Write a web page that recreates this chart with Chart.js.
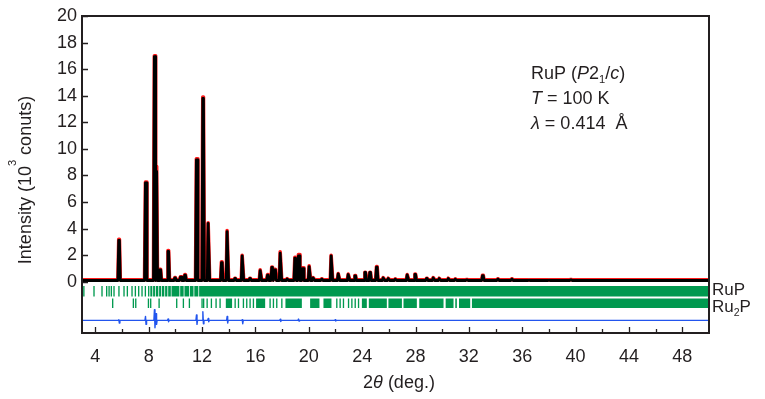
<!DOCTYPE html>
<html>
<head>
<meta charset="utf-8">
<script src="https://cdn.jsdelivr.net/npm/chart.js@4/dist/chart.umd.min.js"></script>
<style>
  body { margin: 0; background: #fff; }
  canvas { display: block; }
</style>
</head>
<body>
<canvas id="xrd" width="765" height="399"></canvas>
<script>
// powder pattern of RuP at 100 K, peaks (2theta in deg, intensity in 10^3 counts)
const peakPos = [5.78, 7.78, 8.45, 8.57, 8.87, 9.47, 9.98, 10.4, 10.73, 11.6, 12.08, 12.48, 13.48, 13.9,
  14.48, 15.03, 15.6, 16.38, 16.93, 17.25, 17.48, 17.88, 18.4, 18.98, 19.25, 19.55, 20.05, 20.35, 20.98,
  21.7, 22.23, 22.98, 23.48, 24.23, 24.6, 25.1, 25.6, 25.98, 26.5, 27.4, 27.98, 28.85, 29.35, 29.8,
  30.48, 31.0, 31.85, 33.05, 34.18, 35.23, 36.5, 38.0, 39.65];
const peakCalc = [3.12, 7.45, 16.95, 8.3, 0.9, 2.28, 0.3, 0.35, 0.5, 9.17, 13.8, 4.4, 1.45, 3.78,
  0.25, 1.95, 0.25, 0.85, 0.5, 1.08, 0.9, 2.15, 0.22, 1.78, 1.95, 1.0, 1.15, 0.3, 0.2,
  1.95, 0.6, 0.55, 0.45, 0.7, 0.7, 1.1, 0.3, 0.25, 0.2, 0.52, 0.55, 0.25, 0.3, 0.25,
  0.25, 0.2, 0.15, 0.47, 0.2, 0.2, 0.12, 0.12, 0.15];
const peakObs = [3.2, 7.5, 17.0, 8.7, 0.95, 2.35, 0.32, 0.38, 0.55, 9.25, 13.9, 4.45, 1.5, 3.85,
  0.27, 2.0, 0.27, 0.9, 0.55, 1.12, 0.95, 2.25, 0.24, 1.85, 2.05, 1.05, 1.2, 0.32, 0.22,
  2.0, 0.62, 0.58, 0.48, 0.72, 0.72, 1.15, 0.32, 0.27, 0.22, 0.55, 0.58, 0.27, 0.32, 0.27,
  0.27, 0.22, 0.17, 0.5, 0.22, 0.22, 0.14, 0.14, 0.17];
const bgCalc = 0.1;
const bgObs = 0.15;

// difference curve spikes (up / down swing around its offset line)
const diffPos = [5.78, 7.78, 8.45, 8.57, 9.47, 11.6, 12.08, 12.48, 13.9, 15.03, 17.88, 19.25, 22.0];
const diffUp = [0.05, 0.3, 0.8, 0.5, 0.1, 0.4, 0.65, 0.15, 0.3, 0.05, 0.08, 0.1, 0.05];
const diffDown = [0.2, 0.3, 0.55, 0.3, 0.1, 0.3, 0.25, 0.1, 0.2, 0.25, 0.08, 0.05, 0.05];

// Bragg reflection markers: single ticks and runs that merge into solid bands
const rupTicks = [3.14, 3.9, 4.5, 4.85, 5.03, 5.2, 5.4, 5.77, 6.15, 6.4, 6.75, 7.0, 7.25, 7.5, 7.75];
const rupBands = [[7.95, 8.05], [8.12, 8.27], [8.33, 8.47], [8.53, 8.72], [8.78, 8.92], [8.98, 9.17],
  [9.23, 9.4], [9.46, 9.66], [9.71, 10.3], [10.36, 10.62], [10.68, 11.02], [11.08, 11.36],
  [11.42, 11.72], [11.78, 50]];
const ru2pTicks = [5.3, 6.85, 7.03, 7.98, 8.15, 8.78, 10.1, 10.6, 11.05, 12.0, 12.12, 12.38, 12.7,
  13.05, 13.35, 14.48, 14.73, 15.1, 15.35, 15.6, 15.85, 17.1, 17.35, 17.6, 17.98,
  22.1, 22.35, 22.6, 22.98, 23.23, 23.48, 23.73];
const ru2pBands = [[13.78, 14.25], [16.05, 16.73], [18.25, 19.48], [20.1, 20.8], [21.1, 21.7],
  [23.98, 24.35], [24.5, 25.85], [25.97, 26.98], [27.1, 28.1], [28.28, 30.1], [30.26, 30.85],
  [30.98, 31.1], [31.26, 32.1], [32.23, 50]];

const xTickLabels = [4, 8, 12, 16, 20, 24, 28, 32, 36, 40, 44, 48];
const xMinorTicks = [6, 10, 14, 18, 22, 26, 30, 34, 38, 42, 46];
const yTickLabels = [0, 2, 4, 6, 8, 10, 12, 14, 16, 18, 20];

const ink = '#231f20';
const family = '"Liberation Sans", Arial, sans-serif';

function profile(heights, base) {
    let pts = [{x: 3, y: base}, {x: 50, y: base}];
    for (let i = 0; i < peakPos.length; i += 1) {
        const p = peakPos[i];
        pts.push({x: p - 0.09, y: base}, {x: p - 0.025, y: heights[i]}, {x: p + 0.025, y: heights[i]}, {x: p + 0.09, y: base});
    }
    pts.sort((a, b) => a.x - b.x);
    return pts;
}

function diffCurve(offset) {
    let pts = [{x: 3, y: offset}, {x: 50, y: offset}];
    for (let i = 0; i < diffPos.length; i += 1) {
        const p = diffPos[i];
        pts.push({x: p - 0.06, y: offset}, {x: p - 0.02, y: offset + diffUp[i]}, {x: p + 0.02, y: offset - diffDown[i]}, {x: p + 0.06, y: offset});
    }
    pts.sort((a, b) => a.x - b.x);
    return pts;
}

function markerRow(ticks, bands, level) {
    let pts = [];
    ticks.map(t => [t - 0.05, t + 0.05]).concat(bands).forEach(([a, b]) => {
        pts.push({x: a, y: level}, {x: b, y: level}, {x: b, y: null});
    });
    return pts;
}

function drawRuns(ctx, runs, x, y, size) {
    runs.forEach(r => {
        const s = (r.sub || r.sup) ? size * 0.62 : size;
        ctx.font = `${r.it ? 'italic ' : ''}${s}px ${family}`;
        const dy = r.sub ? size * 0.22 : (r.sup ? -size * 0.85 : 0);
        ctx.fillText(r.t, x, y + dy);
        x += ctx.measureText(r.t).width;
    });
    return x;
}

function runsWidth(ctx, runs, size) {
    let w = 0;
    runs.forEach(r => {
        const s = (r.sub || r.sup) ? size * 0.62 : size;
        ctx.font = `${r.it ? 'italic ' : ''}${s}px ${family}`;
        w += ctx.measureText(r.t).width;
    });
    return w;
}

const frameAndText = {
    id: 'frameAndText',
    afterDraw(chart) {
        const {ctx, chartArea: a, scales: {x, y}} = chart;
        ctx.save();
        ctx.strokeStyle = ink;
        ctx.lineWidth = 1.3;
        ctx.beginPath();
        x.ticks.forEach(t => {
            const px = Math.round(x.getPixelForValue(t.value)) + 0.5;
            const len = xTickLabels.includes(t.value) ? 6 : 4;
            ctx.moveTo(px, a.bottom);
            ctx.lineTo(px, a.bottom - len);
        });
        y.ticks.forEach(t => {
            const py = Math.round(y.getPixelForValue(t.value)) + 0.5;
            ctx.moveTo(a.left, py);
            ctx.lineTo(a.left + 6, py);
        });
        ctx.stroke();
        ctx.lineWidth = 2;
        ctx.strokeRect(a.left, a.top, a.right - a.left, a.bottom - a.top);

        ctx.fillStyle = ink;
        ctx.textBaseline = 'alphabetic';
        ctx.textAlign = 'left';
        drawRuns(ctx, [{t: 'RuP ('}, {t: 'P', it: true}, {t: '2'}, {t: '1', sub: true}, {t: '/'}, {t: 'c', it: true}, {t: ')'}], 531, 79, 18);
        drawRuns(ctx, [{t: 'T', it: true}, {t: ' = 100 K'}], 531, 104, 18);
        drawRuns(ctx, [{t: 'λ', it: true}, {t: ' = 0.414  Å'}], 531, 129, 18);

        drawRuns(ctx, [{t: 'RuP'}], 712, 295, 17);
        drawRuns(ctx, [{t: 'Ru'}, {t: '2', sub: true}, {t: 'P'}], 712, 312, 17);

        const xt = [{t: '2'}, {t: 'θ', it: true}, {t: ' (deg.)'}];
        drawRuns(ctx, xt, 399 - runsWidth(ctx, xt, 18) / 2, 388, 18);

        const yt = [{t: 'Intensity (10'}, {t: '3', sup: true}, {t: ' conuts)'}];
        ctx.translate(31, 180);
        ctx.rotate(-Math.PI / 2);
        drawRuns(ctx, yt, -runsWidth(ctx, yt, 18) / 2, 0, 18);
        ctx.restore();
    }
};

const lineSet = (label, data, color, width, order) => ({
    label: label,
    data: data,
    showLine: true,
    spanGaps: false,
    borderColor: color,
    borderWidth: width,
    borderJoinStyle: 'round',
    pointRadius: 0,
    fill: false,
    order: order
});

new Chart(document.getElementById('xrd'), {
    type: 'scatter',
    data: {
        datasets: [
            lineSet('Calc.', profile(peakCalc, bgCalc), '#000000', 2.8, 0),
            lineSet('Obs.', profile(peakObs, bgObs), '#ff1a1a', 3.6, 1),
            Object.assign(lineSet('RuP', markerRow(rupTicks, rupBands, -0.7), '#00994f', 10.5, 2), {borderJoinStyle: 'miter'}),
            Object.assign(lineSet('Ru2P', markerRow(ru2pTicks, ru2pBands, -1.62), '#00994f', 9.5, 2), {borderJoinStyle: 'miter'}),
            lineSet('Diff.', diffCurve(-2.9), '#2255ee', 1.4, 2)
        ]
    },
    options: {
        responsive: false,
        animation: false,
        layout: {padding: {left: 0, right: 56, top: 16, bottom: 0}},
        plugins: {legend: {display: false}, tooltip: {enabled: false}},
        scales: {
            x: {
                type: 'linear',
                min: 3,
                max: 50,
                afterBuildTicks: s => { s.ticks = xTickLabels.concat(xMinorTicks).sort((a, b) => a - b).map(v => ({value: v})); },
                afterFit: s => { s.height = 66; },
                grid: {display: false, drawTicks: false},
                border: {display: false},
                ticks: {
                    autoSkip: false,
                    maxRotation: 0,
                    padding: 13,
                    color: ink,
                    font: {family: family, size: 18},
                    callback: v => xTickLabels.includes(v) ? String(v) : ''
                }
            },
            y: {
                type: 'linear',
                min: -3.85,
                max: 20,
                afterBuildTicks: s => { s.ticks = yTickLabels.map(v => ({value: v})); },
                afterFit: s => { s.width = 82; },
                grid: {display: false, drawTicks: false},
                border: {display: false},
                ticks: {
                    padding: 5,
                    color: ink,
                    font: {family: family, size: 18},
                    callback: v => String(v)
                }
            }
        }
    },
    plugins: [frameAndText]
});
</script>
</body>
</html>
